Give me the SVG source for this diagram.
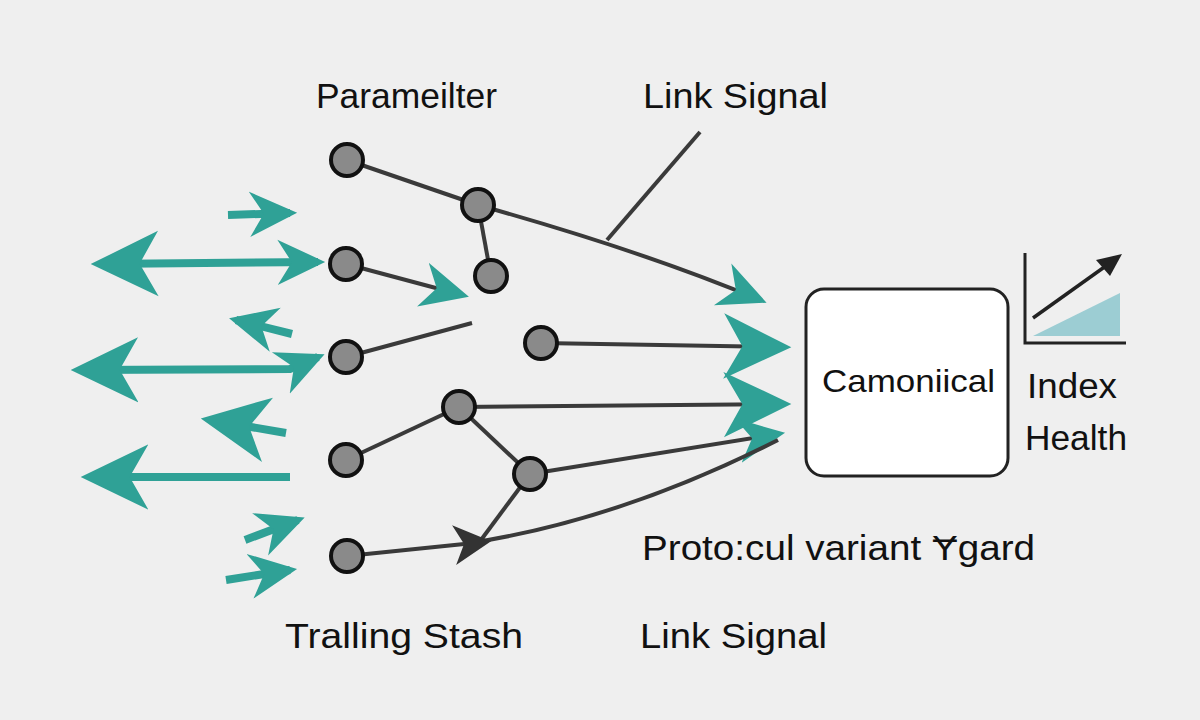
<svg xmlns="http://www.w3.org/2000/svg" width="1200" height="720" viewBox="0 0 1200 720">
<style>
text{font-family:"Liberation Sans",Arial,sans-serif;fill:#111}
.n{fill:#8a8a8a;stroke:#111;stroke-width:4}
.e{stroke:#3a3a3a;stroke-width:4;fill:none}
.t{stroke:#2fa196;stroke-width:8;fill:none}
</style>
<defs>
<marker id="th" markerUnits="userSpaceOnUse" markerWidth="70" markerHeight="70" refX="50" refY="30" orient="auto-start-reverse" viewBox="0 0 60 60"><path d="M0,2 L58,30 L0,58 L16,30Z" fill="#2fa196"/></marker>
<marker id="ts" markerUnits="userSpaceOnUse" markerWidth="50" markerHeight="50" refX="34" refY="21" orient="auto-start-reverse" viewBox="0 0 42 42"><path d="M0,2 L40,21 L0,40 L12,21Z" fill="#2fa196"/></marker>
<marker id="dh" markerUnits="userSpaceOnUse" markerWidth="40" markerHeight="40" refX="14" refY="14" orient="auto" viewBox="0 0 28 28"><path d="M0,0 L26,14 L0,28 L7,14Z" fill="#333"/></marker>
</defs>
<rect width="1200" height="720" fill="#efefef"/>
<g id="connectors">
<line class="e" x1="347" y1="160" x2="478" y2="205"/>
<line class="e" x1="478" y1="205" x2="491" y2="276"/>
<path class="e" d="M478,205 Q640,250 760,300" marker-end="url(#ts)"/>
<line class="e" x1="607" y1="240" x2="700" y2="132" stroke-width="2.5"/>
<line class="e" x1="346" y1="264" x2="462" y2="295" marker-end="url(#ts)"/>
<line class="e" x1="346" y1="357" x2="472" y2="323"/>
<line class="e" x1="541" y1="343" x2="782" y2="347" marker-end="url(#th)"/>
<line class="e" x1="459" y1="407" x2="782" y2="404" marker-end="url(#th)"/>
<line class="e" x1="346" y1="460" x2="459" y2="407"/>
<line class="e" x1="459" y1="407" x2="530" y2="474"/>
<line class="e" x1="530" y1="474" x2="778" y2="434" marker-end="url(#ts)"/>
<line class="e" x1="530" y1="474" x2="478" y2="544"/>
<path class="e" d="M470,543 Q620,520 778,440"/>
<line class="e" x1="347" y1="556" x2="474" y2="543" marker-end="url(#dh)"/>
<line class="t" x1="228" y1="215" x2="290" y2="213" marker-end="url(#ts)"/>
<line class="t" x1="100" y1="264" x2="318" y2="262" marker-start="url(#th)" marker-end="url(#ts)"/>
<line class="t" x1="292" y1="334" x2="236" y2="320" marker-end="url(#ts)"/>
<path class="t" d="M80,370 L290,369 L318,357" marker-start="url(#th)" marker-end="url(#ts)"/>
<line class="t" x1="286" y1="433" x2="210" y2="420" marker-end="url(#th)"/>
<line class="t" x1="290" y1="477" x2="90" y2="477" marker-end="url(#th)"/>
<line class="t" x1="245" y1="540" x2="298" y2="520" marker-end="url(#ts)"/>
<line class="t" x1="226" y1="580" x2="290" y2="570" marker-end="url(#ts)"/>
</g>
<g id="nodes">
<circle id="n1" class="n" cx="347" cy="160" r="16"/>
<circle id="n2" class="n" cx="478" cy="205" r="16"/>
<circle id="n3" class="n" cx="491" cy="276" r="16"/>
<circle id="n4" class="n" cx="346" cy="264" r="16"/>
<circle id="n5" class="n" cx="346" cy="357" r="16"/>
<circle id="n6" class="n" cx="541" cy="343" r="16"/>
<circle id="n7" class="n" cx="459" cy="407" r="16"/>
<circle id="n8" class="n" cx="346" cy="460" r="16"/>
<circle id="n9" class="n" cx="530" cy="474" r="16"/>
<circle id="n10" class="n" cx="347" cy="556" r="16"/>
</g>
<g id="canonical">
<rect x="806" y="289" width="202" height="187" rx="18" fill="#fff" stroke="#222" stroke-width="3"/>
<text x="822" y="392" font-size="32" textLength="173" lengthAdjust="spacingAndGlyphs">Camoniical</text>
</g>
<g id="chart">
<polygon points="1033,336 1120,293 1120,336" fill="#9ccdd3"/>
<polyline points="1025,253 1025,343 1126,343" fill="none" stroke="#222" stroke-width="3"/>
<line x1="1033" y1="318" x2="1110" y2="263" stroke="#222" stroke-width="3.5"/>
<path d="M1122,254 L1096,260 L1110,276Z" fill="#222"/>
</g>
<text x="316" y="108" font-size="35" textLength="181" lengthAdjust="spacingAndGlyphs">Parameilter</text>
<text x="643" y="108" font-size="35" textLength="185" lengthAdjust="spacingAndGlyphs">Link Signal</text>
<text x="1027" y="398" font-size="35" textLength="90" lengthAdjust="spacingAndGlyphs">Index</text>
<text x="1025" y="450" font-size="35" textLength="102" lengthAdjust="spacingAndGlyphs">Health</text>
<text x="642" y="560" font-size="35" textLength="393" lengthAdjust="spacingAndGlyphs">Proto:cul variant Ɏgard</text>
<text x="285" y="648" font-size="35" textLength="238" lengthAdjust="spacingAndGlyphs">Tralling Stash</text>
<text x="640" y="648" font-size="35" textLength="187" lengthAdjust="spacingAndGlyphs">Link Signal</text>
</svg>
